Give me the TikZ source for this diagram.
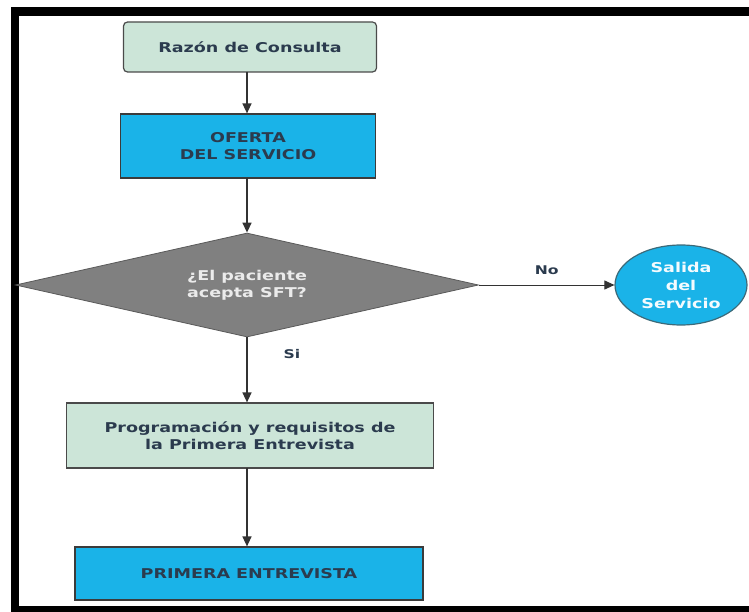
\documentclass[tikz,border=0pt]{standalone}
\usepackage{fontspec}
\setmainfont{DejaVu Sans}[FakeStretch=1.3]
\usetikzlibrary{shapes.geometric,arrows.meta}
\definecolor{palegreen}{HTML}{CCE5D8}
\definecolor{cyanfill}{HTML}{1AB3E8}
\definecolor{diagrey}{HTML}{808080}
\definecolor{darktext}{HTML}{2B3B4E}
\definecolor{edge}{HTML}{4A4A4A}
\tikzset{
  x=1pt, y=-1pt,
  txt/.style={font=\bfseries\fontsize{13.5}{17}\selectfont, text=darktext, align=center, inner sep=0pt},
  greenbox/.style={txt, draw=edge, line width=1.2pt, fill=palegreen},
  bluebox/.style={txt, draw=edge!80!black, line width=1.2pt, fill=cyanfill},
  decision/.style={diamond, draw=diagrey!70!black, line width=0.8pt, fill=diagrey, inner sep=0pt, aspect=4.45,
     font=\bfseries\fontsize{13.5}{17}\selectfont, text=white!92!black, align=center},
  terminal/.style={ellipse, draw=edge!70!cyanfill, line width=1.2pt, fill=cyanfill, inner sep=0pt,
     font=\bfseries\fontsize{13.5}{18}\selectfont, text=white!95!cyanfill, align=center},
  arr/.style={draw=black!80, line width=1.4pt, -{Triangle[length=10pt,width=9pt]}},
  lbl/.style={font=\bfseries\fontsize{12}{14}\selectfont, text=darktext, inner sep=0pt}
}
\begin{document}
\begin{tikzpicture}
\useasboundingbox (0,0) rectangle (749,612);
% frame
\fill[black] (11,7) rectangle (749,16);
\fill[black] (11,7) rectangle (19,612);
\fill[black] (11,606) rectangle (749,612);
% nodes
\node[greenbox, rounded corners=4pt, minimum width=253pt, minimum height=50pt] (c1) at (250,47) {Razón de Consulta};
\node[bluebox, minimum width=255pt, minimum height=64pt] (c2) at (248,146) {OFERTA\\DEL SERVICIO};
\node[decision, minimum width=463pt, minimum height=104pt] (d) at (247,285) {¿El paciente\\acepta SFT?};
\node[terminal, minimum width=132pt, minimum height=80pt] (e) at (681,285) {Salida\\del\\Servicio};
\node[greenbox, minimum width=367pt, minimum height=65pt] (c4) at (250,435.5) {Programación y requisitos de\\la Primera Entrevista};
\node[bluebox, minimum width=348pt, minimum height=53pt] (c5) at (249,573.5) {PRIMERA ENTREVISTA};
% connectors
\coordinate (a1) at (247,72);
\draw[arr] (a1) -- (a1 |- c2.north);
\coordinate (a2) at (247,178);
\draw[arr] (a2) -- (d.north);
\draw[arr, line width=1pt] (d.east) -- (e.west) node[lbl, pos=0.5, above=10pt] {No};
\draw[arr] (d.south) -- (d.south |- c4.north) node[lbl, pos=0.25, right=36pt] {Si};
\coordinate (a4) at (247,468);
\draw[arr] (a4) -- (a4 |- c5.north);
\end{tikzpicture}
\end{document}
